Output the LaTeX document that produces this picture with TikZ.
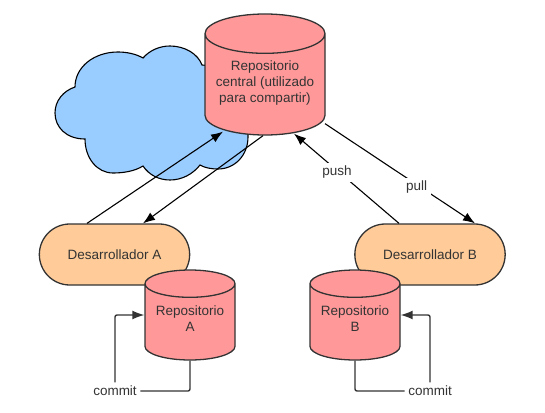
\documentclass[tikz,border=0pt]{standalone}
\usepackage{fontspec}
\setmainfont{Liberation Sans}
\usetikzlibrary{arrows.meta}
\usetikzlibrary{shapes.geometric}
\usetikzlibrary{shapes.misc}
\definecolor{repofill}{HTML}{FF9999}
\definecolor{devfill}{HTML}{FFCC99}
\definecolor{cloudfill}{HTML}{99CCFF}
\definecolor{ink}{HTML}{333333}
\newcommand{\liftrepo}{\\[-9pt]\mbox{}}
\tikzset{repo/.style={draw=ink,line width=1.3pt,cylinder,shape border rotate=90,aspect=.4,
    cylinder uses custom fill,cylinder body fill=repofill,cylinder end fill=repofill,
    minimum width=90pt,minimum height=90pt,inner sep=0pt,align=center,text=ink,anchor=shape center,
    font=\fontsize{13.5}{16}\selectfont}}
\tikzset{dev/.style={draw=ink,line width=1.3pt,fill=devfill,rounded rectangle,
    minimum width=157pt,minimum height=61pt,text=ink,font=\fontsize{13.5}{16}\selectfont}}
\tikzset{tag/.style={fill=white,inner sep=3.5pt,text=black!80,font=\fontsize{13.5}{16}\selectfont}}
\tikzset{wire/.style={draw=black,line width=1.1pt}}
\tikzset{tip/.style={wire,-{Latex[length=12pt,width=9pt]}}}
\tikzset{loopline/.style={draw=ink,line width=1.4pt,rounded corners=2pt}}
\begin{document}
\begin{tikzpicture}[x=1pt,y=-1pt]
  \useasboundingbox (0,0) rectangle (545,412);
  % cloud behind the central repository
  \draw [draw=black,line width=1.1pt,fill=cloudfill] (85,139)
    .. controls (66,139) and (55,127) .. (55,113)
    .. controls (55,101) and (63,91) .. (75,87)
    .. controls (75,67) and (94,52) .. (118,52)
    .. controls (127,52) and (136,54) .. (143,58)
    .. controls (150,50) and (160,46) .. (170,46)
    .. controls (185,46) and (198,54) .. (202,65)
    .. controls (225,65) and (248,105) .. (248,137)
    .. controls (248,155) and (235,169) .. (218,169)
    .. controls (212,169) and (205,168) .. (200,165)
    .. controls (193,174) and (182,180) .. (170,180)
    .. controls (159,180) and (149,175) .. (143,166)
    .. controls (135,171) and (124,173) .. (113,173)
    .. controls (97,173) and (85,158) .. (85,139) -- cycle;
  \node [repo,minimum width=120pt,minimum height=121pt] (repoC) at (265,74.5)
    {Repositorio\\central (utilizado\\para compartir)\liftrepo};
  \node [dev] (devA) at (114.5,254.5) {Desarrollador A};
  \node [dev] (devB) at (430,254.5) {Desarrollador B};
  \node [repo] (repoA) at (190,315) {Repositorio\\A\liftrepo};
  \node [repo] (repoB) at (355,315) {Repositorio\\B\liftrepo};
  \node [tag] (commitA) at (115,391) {commit};
  \node [tag] (commitB) at (430,391) {commit};
  % connectors
  \draw [tip] ([xshift=-27.5pt]devA.north) -- ([xshift=-42pt,yshift=4pt]repoC.south);
  \draw [tip] ([xshift=-2pt]repoC.south) -- ([xshift=28.5pt]devA.north);
  \path ([xshift=-31pt]devB.north) edge [tip] node [tag,pos=.59,yshift=-2pt] {push} ([xshift=29pt,yshift=2pt]repoC.south);
  \path ([xshift=60pt,yshift=12pt]repoC.south) edge [tip] node [tag,pos=.61,yshift=-3pt] {pull} ([xshift=45pt]devB.north);
  \draw [loopline] (repoA.south) |- (commitA.east);
  \draw [loopline,-{Latex[length=12pt,width=9pt]}] (commitA.north) |- (repoA.west |- repoA.shape center);
  \draw [loopline] (repoB.south) |- (commitB.west);
  \draw [loopline,-{Latex[length=12pt,width=9pt]}] (commitB.north) |- (repoB.east |- repoB.shape center);
\end{tikzpicture}
\end{document}
